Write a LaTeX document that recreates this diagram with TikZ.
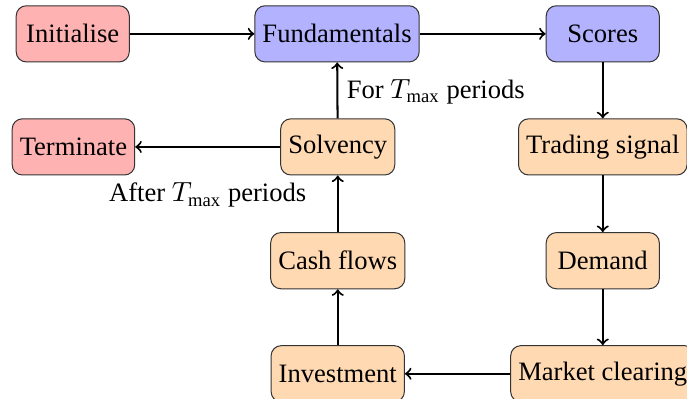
\documentclass[tikz,border=0pt]{standalone}
\usepackage{fontspec}
\setmainfont{Liberation Serif}
\usepackage{tikz}

\tikzset{
	block/.style={draw=black!80, rounded corners=4pt, minimum height=0.78cm, minimum width=1.57cm, inner xsep=3pt},
	startstop/.style={block, fill=red!30},
	info/.style={block, fill=blue!30},
	process/.style={block, fill=orange!30},
	flow/.style={black, thick, ->}
}

\begin{document}
\begin{tikzpicture}[font=\fontsize{10.5pt}{12.6pt}\selectfont]
		
		\useasboundingbox (0,0) rectangle (9.54,5.54);
		
		\node[startstop] (init) at (1.01,5.07) {Initialise};
		\node[info] (fund) at (4.68,5.07) {Fundamentals};
		\node[info] (scores) at (8.37,5.07) {Scores};
		\node[startstop] (term) at (1.02,3.50) {Terminate};
		\node[process] (solv) at (4.69,3.50) {Solvency};
		\node[process] (signal) at (8.37,3.50) {Trading signal};
		\node[process] (cash) at (4.69,1.92) {Cash flows};
		\node[process] (demand) at (8.37,1.92) {Demand};
		\node[process] (invest) at (4.69,0.35) {Investment};
		\node[process] (clearing) at (8.37,0.35) {Market clearing};
		
		\draw[flow] (init) -- (fund);
		\draw[flow] (fund) -- (scores);
		\draw[flow] (scores) -- (signal);
		\draw[flow] (signal) -- (demand);
		\draw[flow] (demand) -- (clearing);
		\draw[flow] (clearing) -- (invest);
		\draw[flow] (invest) -- (cash);
		\draw[flow] (cash) -- (solv);
		\draw[flow] (solv) -- node[right, yshift=-0.02cm] {For $T_{\max}$ periods} (fund);
		% label sits well under the arrow
		\draw[flow] (solv) -- node[below=0.37cm] {After $T_{\max}$ periods} (term);
		
	\end{tikzpicture}
\end{document}
